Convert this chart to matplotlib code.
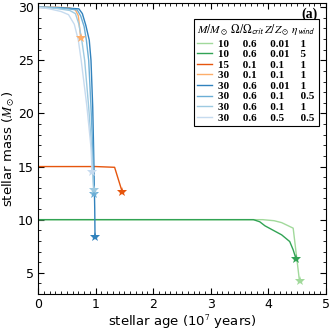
import matplotlib
matplotlib.use("Agg")
import matplotlib.pyplot as plt
from matplotlib.lines import Line2D
from matplotlib.ticker import MultipleLocator

plt.rcParams['mathtext.fontset'] = 'stix'

# ---- data ----
masses = ["10", "10", "15", "30", "30", "30", "30", "30"]
omegas = ["0.6", "0.6", "0.1", "0.1", "0.6", "0.6", "0.6", "0.6"]
metals = ["0.01", "0.01", "0.1", "0.1", "0.01", "0.1", "0.1", "0.5"]
etas = ["1", "5", "1", "1", "1", "0.5", "1", "0.5"]
colors = ["#a1d99b", "#31a354", "#e6550d", "#fdae6b",
          "#3182bd", "#6baed6", "#9ecae1", "#c6dbef"]

age_g1 = [0, 1, 2, 3, 3.9, 4.1, 4.23, 4.43, 4.54]
mass_g1 = [10, 10, 10, 10, 10, 9.9, 9.72, 9.2, 4.2]
age_g2 = [0, 1, 2, 3, 3.74, 3.85, 3.94, 4.23, 4.37, 4.43, 4.48]
mass_g2 = [10, 10, 10, 10, 10, 9.8, 9.42, 8.57, 7.94, 7.16, 6.3]
age_o1 = [0, 0.5, 1.0, 1.33, 1.46]
mass_o1 = [15, 15, 15, 14.93, 12.65]
age_o2 = [0, 0.3, 0.55, 0.65, 0.70, 0.74]
mass_o2 = [30, 30, 29.95, 29.75, 29.2, 27.15]
age_b1 = [0, 0.35, 0.71, 0.77, 0.83, 0.89, 0.92, 0.95, 0.965, 0.985, 0.99]
mass_b1 = [30, 29.97, 29.85, 29.4, 28.3, 26.9, 25.0, 20.6, 16.8, 11.0, 8.4]
age_b2 = [0, 0.35, 0.68, 0.74, 0.80, 0.84, 0.88, 0.92, 0.95, 0.97]
mass_b2 = [30, 29.95, 29.75, 29.2, 28.2, 26.9, 25.0, 20.6, 16.8, 12.4]
age_b3 = [0, 0.3, 0.55, 0.65, 0.71, 0.76, 0.81, 0.88, 0.93, 0.965]
mass_b3 = [30, 29.9, 29.7, 29.4, 28.4, 26.9, 25.0, 20.6, 16.8, 12.8]
age_b4 = [0, 0.2, 0.4, 0.53, 0.63, 0.70, 0.75, 0.85, 0.92, 0.94]
mass_b4 = [30, 29.85, 29.6, 29.3, 28.4, 26.9, 25.0, 20.6, 16.8, 14.5]

ages = [age_g1, age_g2, age_o1, age_o2, age_b1, age_b2, age_b3, age_b4]
mvals = [mass_g1, mass_g2, mass_o1, mass_o2, mass_b1, mass_b2, mass_b3, mass_b4]

fig = plt.figure(figsize=(3.32, 3.32), dpi=100)
ax = fig.add_axes([38/332, 1-294/332, 288/332, 291/332])

for a, m, c in zip(ages, mvals, colors):
    ax.plot(a, m, color=c, lw=1.0)
for a, m, c in zip(ages, mvals, colors):
    ax.plot(a[-1], m[-1], marker='*', color=c, ms=7, mew=0, ls='none')

ax.set_xlim(0, 5)
ax.set_ylim(3, 30.4)
ax.xaxis.set_major_locator(MultipleLocator(1))
ax.xaxis.set_minor_locator(MultipleLocator(0.1))
ax.yaxis.set_major_locator(MultipleLocator(5))
ax.yaxis.set_minor_locator(MultipleLocator(1))
ax.tick_params(which='both', direction='in', top=True, right=True, labelsize=9)
ax.tick_params(which='major', length=4, width=0.8, pad=3)
ax.tick_params(which='minor', length=2, width=0.6)
ax.set_xlabel(r"stellar age (10$^7$ years)", fontsize=9.5, labelpad=1)
ax.set_ylabel(r"stellar mass ($M_\odot$)", fontsize=9.5, labelpad=1)

# legend
def pad(s, w):
    return s + " " * (2 * (w - len(s)))
labels = []
for m, o, z, e in zip(masses, omegas, metals, etas):
    labels.append(f"{m}     {o}     {pad(z, 4)}    {e}")
handles = [Line2D([], [], color=c, lw=1.0) for c in colors]
title = (r"$M/M_\odot\;\Omega/\Omega_{\mathsf{crit}}\;"
         r"Z/Z_\odot\;\eta_{\mathsf{wind}}$")
leg = ax.legend(handles, labels, loc='upper right',
                bbox_to_anchor=(0.976, 0.945), frameon=True, fancybox=False,
                edgecolor='black', framealpha=1,
                prop={'family': 'Liberation Serif', 'weight': 'bold', 'size': 8},
                handlelength=1.35, handletextpad=0.5, labelspacing=0.07,
                borderpad=0.3, borderaxespad=0, title=title,
                title_fontsize=8.3, alignment='left')
leg.get_frame().set_linewidth(0.8)
leg._legend_box.sep = 1

ax.text(0.972, 0.985, "(a)", transform=ax.transAxes, ha='right', va='top',
        family='Liberation Serif', weight='bold', fontsize=10)

fig.savefig("out.png", dpi=100)
